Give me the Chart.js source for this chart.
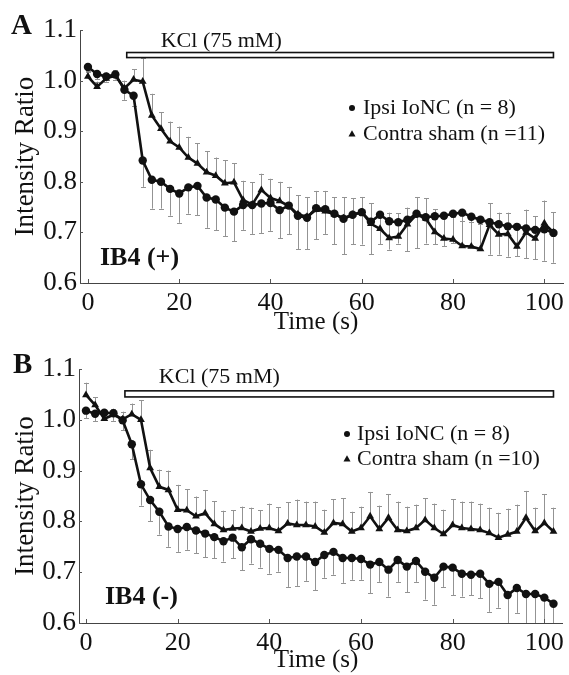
<!DOCTYPE html>
<html><head><meta charset="utf-8">
<script src="https://cdn.jsdelivr.net/npm/chart.js@4.4.1/dist/chart.umd.min.js"></script>
<style>
html,body{margin:0;padding:0;background:#fff;}
#wrap{position:relative;width:569px;height:675px;background:#fff;}
canvas{position:absolute;left:0;}
#cA{top:0}
#cB{top:337px}
</style></head><body>
<div id="wrap"><canvas id="cA" width="569" height="337"></canvas><canvas id="cB" width="569" height="338"></canvas></div>
<script>
// ---------- DATA ----------
const time = [0,2,4,6,8,10,12,14,16,18,20,22,24,26,28,30,32,34,36,38,40,42,44,46,48,50,52,54,56,58,60,62,64,66,68,70,72,74,76,78,80,82,84,86,88,90,92,94,96,98,100,102];
const xTickValues = [0,20,40,60,80,100];
const yTickValues = [0.6,0.7,0.8,0.9,1.0,1.1];
const seriesNames = ['Ipsi IoNC', 'Contra sham'];

// Panel A: IB4 (+)
const aIpsi = [1.027,1.013,1.008,1.012,0.982,0.970,0.842,0.804,0.800,0.786,0.777,0.789,0.792,0.769,0.765,0.749,0.741,0.754,0.754,0.757,0.758,0.744,0.753,0.733,0.729,0.748,0.746,0.737,0.727,0.735,0.740,0.721,0.735,0.722,0.720,0.725,0.737,0.730,0.732,0.733,0.737,0.739,0.731,0.725,0.720,0.716,0.712,0.711,0.708,0.705,0.706,0.699];
const aIpsiErr = [0.010,0.010,0.010,0.010,0.020,0.020,0.052,0.057,0.053,0.053,0.058,0.052,0.058,0.060,0.061,0.057,0.058,0.049,0.057,0.059,0.055,0.056,0.057,0.066,0.062,0.062,0.049,0.060,0.070,0.058,0.064,0.064,0.058,0.056,0.042,0.062,0.068,0.052,0.055,0.060,0.058,0.062,0.056,0.060,0.064,0.060,0.060,0.058,0.059,0.058,0.062,0.059];
const aContra = [1.008,0.988,1.004,1.010,0.985,1.002,0.998,0.931,0.905,0.880,0.868,0.848,0.836,0.819,0.812,0.797,0.799,0.764,0.755,0.784,0.768,0.762,0.752,0.736,0.731,0.745,0.742,0.736,0.728,0.735,0.740,0.717,0.707,0.689,0.692,0.716,0.735,0.728,0.701,0.688,0.686,0.673,0.672,0.667,0.715,0.696,0.697,0.672,0.700,0.688,0.718,0.700];
const aContraErr = [0.010,0.010,0.012,0.010,0.015,0.020,0.047,0.043,0.032,0.039,0.041,0.041,0.040,0.041,0.036,0.046,0.038,0.038,0.044,0.032,0.038,0.038,0.038,0.037,0.039,0.037,0.040,0.033,0.041,0.033,0.030,0.041,0.030,0.050,0.046,0.033,0.035,0.039,0.045,0.050,0.045,0.050,0.048,0.050,0.043,0.043,0.042,0.045,0.045,0.044,0.045,0.040];

// Panel B: IB4 (-)
const bIpsi = [1.018,1.012,1.014,1.013,0.999,0.952,0.873,0.842,0.819,0.790,0.785,0.789,0.782,0.776,0.769,0.761,0.768,0.749,0.765,0.756,0.746,0.744,0.728,0.731,0.731,0.720,0.734,0.740,0.728,0.728,0.726,0.715,0.720,0.705,0.724,0.711,0.722,0.701,0.689,0.711,0.709,0.697,0.695,0.697,0.677,0.681,0.655,0.669,0.657,0.657,0.650,0.638];
const bIpsiErr = [0.015,0.015,0.015,0.015,0.020,0.030,0.042,0.042,0.045,0.040,0.045,0.045,0.045,0.047,0.042,0.040,0.041,0.045,0.048,0.047,0.049,0.043,0.057,0.058,0.048,0.055,0.045,0.045,0.049,0.043,0.041,0.056,0.039,0.053,0.043,0.050,0.041,0.055,0.053,0.040,0.054,0.045,0.040,0.048,0.055,0.051,0.058,0.049,0.060,0.060,0.060,0.060];
const bContra = [1.049,1.029,1.002,1.010,1.001,1.011,1.000,0.905,0.868,0.862,0.823,0.822,0.810,0.816,0.795,0.783,0.786,0.787,0.780,0.786,0.787,0.781,0.796,0.793,0.793,0.790,0.778,0.797,0.795,0.780,0.787,0.810,0.785,0.807,0.783,0.781,0.787,0.803,0.787,0.775,0.793,0.787,0.785,0.783,0.777,0.768,0.774,0.780,0.807,0.781,0.797,0.780];
const bContraErr = [0.024,0.015,0.012,0.012,0.015,0.021,0.039,0.036,0.034,0.038,0.049,0.041,0.039,0.045,0.045,0.038,0.036,0.042,0.047,0.036,0.048,0.047,0.042,0.050,0.046,0.049,0.045,0.047,0.051,0.039,0.042,0.048,0.046,0.047,0.056,0.048,0.046,0.043,0.048,0.048,0.051,0.052,0.054,0.052,0.050,0.049,0.051,0.053,0.053,0.046,0.057,0.047];

const kclRange = [8.5, 102];   // seconds, KCl (75 mM) application
// ---------- END DATA ----------

const SERIF = '"Liberation Serif", "Times New Roman", serif';
const INK = '#111';

function pts(vals){ return time.map((t,i)=>({x:t,y:vals[i]})); }

function drawMarker(ctx, style, x, y, r){
  ctx.beginPath();
  if(style==='circle'){ ctx.arc(x,y,r,0,Math.PI*2); }
  else { ctx.moveTo(x, y - r*1.15); ctx.lineTo(x + r*1.1, y + r*0.75); ctx.lineTo(x - r*1.1, y + r*0.75); ctx.closePath(); }
  ctx.fillStyle = INK; ctx.fill();
}

const overlay = {
  id:'overlay',
  beforeDatasetsDraw(chart, args, o){
    const {ctx, chartArea:ca, scales:{x,y}} = chart;
    ctx.save();
    ctx.beginPath(); ctx.rect(ca.left, ca.top - 40, ca.right - ca.left, ca.bottom - ca.top + 40); ctx.clip();
    ctx.strokeStyle = '#939393'; ctx.lineWidth = 1;
    o.errors.forEach(e=>{
      time.forEach((t,i)=>{
        const px = Math.round(x.getPixelForValue(t)) + 0.5;
        const y0 = y.getPixelForValue(e.vals[i]);
        const y1 = y.getPixelForValue(e.vals[i] + e.dir * e.err[i]);
        ctx.beginPath(); ctx.moveTo(px, y0); ctx.lineTo(px, y1);
        ctx.moveTo(px - 2.5, Math.round(y1)+0.5); ctx.lineTo(px + 2.5, Math.round(y1)+0.5);
        ctx.stroke();
      });
    });
    ctx.restore();
  },
  afterDraw(chart, args, o){
    const {ctx, chartArea:ca, scales:{x,y}} = chart;
    ctx.save();
    // inner tick marks
    ctx.strokeStyle = '#555'; ctx.lineWidth = 1;
    xTickValues.forEach(v=>{ const px = Math.round(x.getPixelForValue(v))+0.5; ctx.beginPath(); ctx.moveTo(px, ca.bottom); ctx.lineTo(px, ca.bottom-4); ctx.stroke(); });
    yTickValues.forEach(v=>{ const py = Math.round(y.getPixelForValue(v))+0.5; ctx.beginPath(); ctx.moveTo(ca.left, py); ctx.lineTo(ca.left+3, py); ctx.stroke(); });
    // KCl bar
    const x0 = x.getPixelForValue(kclRange[0]), x1 = x.getPixelForValue(kclRange[1]);
    const yt = y.getPixelForValue(o.barTop), yb = y.getPixelForValue(o.barBot);
    ctx.fillStyle = '#fff'; ctx.fillRect(x0, yt, x1-x0, yb-yt);
    ctx.strokeStyle = INK; ctx.lineWidth = 1.6; ctx.strokeRect(x0, yt, x1-x0, yb-yt);
    ctx.fillStyle = INK;
    ctx.font = '22px ' + SERIF; ctx.textAlign = 'center'; ctx.textBaseline = 'alphabetic';
    ctx.fillText('KCl (75 mM)', x.getPixelForValue(o.kclLabelT), o.kclBase);
    // x title
    ctx.font = '25px ' + SERIF; ctx.textAlign = 'center';
    ctx.fillText('Time (s)', o.xTitleX, o.xTitleBase);
    // panel letter
    ctx.font = 'bold 29px ' + SERIF; ctx.textAlign = 'left';
    ctx.fillText(o.letter, o.letterX, o.letterBase);
    // IB4 label
    ctx.font = 'bold 26px ' + SERIF;
    ctx.fillText(o.ib4, o.ib4X, o.ib4Base);
    // legend
    ctx.font = '22px ' + SERIF;
    drawMarker(ctx, 'circle', o.legX, o.legBase1 - 6, 3);
    ctx.fillText(o.leg1, o.legTextX, o.legBase1);
    drawMarker(ctx, 'triangle', o.legX, o.legBase2 - 6, 3.2);
    ctx.fillText(o.leg2, o.legTextX, o.legBase2);
    ctx.restore();
  }
};

function makePanel(id, ipsi, ipsiErr, contra, contraErr, g, ov){
  return new Chart(document.getElementById(id), {
    type:'line',
    data:{ datasets:[
      {label:seriesNames[0], data:pts(ipsi), borderColor:INK, backgroundColor:INK, borderWidth:2.6, pointStyle:'circle', pointRadius:4.2, pointBackgroundColor:INK, pointBorderColor:INK, pointBorderWidth:0, tension:0},
      {label:seriesNames[1], data:pts(contra), borderColor:INK, backgroundColor:INK, borderWidth:2.6, pointStyle:'triangle', pointRadius:4.5, pointBackgroundColor:INK, pointBorderColor:INK, pointBorderWidth:0, tension:0}
    ]},
    options:{
      responsive:false, animation:false, devicePixelRatio:1,
      layout:{padding:{top:g.top, right:g.right, left:0, bottom:0}},
      plugins:{legend:{display:false}, tooltip:{enabled:false},
        overlay:Object.assign({errors:[{vals:ipsi, err:ipsiErr, dir:-1},{vals:contra, err:contraErr, dir:1}]}, ov)},
      scales:{
        x:{type:'linear', min:g.xmin, max:g.xmax,
           afterBuildTicks:s=>{ s.ticks = xTickValues.map(v=>({value:v})); },
           afterFit:s=>{ s.height = g.xh; },
           grid:{display:false, drawTicks:false}, border:{display:true, color:'#444', width:1},
           ticks:{font:{family:SERIF, size:26}, color:INK, padding:5, maxRotation:0, autoSkip:false, callback:v=>String(v)}},
        y:{type:'linear', min:0.6, max:1.1,
           afterBuildTicks:s=>{ s.ticks = yTickValues.map(v=>({value:v})); },
           afterFit:s=>{ s.width = g.yw; },
           grid:{display:false, drawTicks:false}, border:{display:true, color:'#444', width:1},
           ticks:{font:{family:SERIF, size:27}, color:INK, padding:3, autoSkip:false, callback:v=>Number(v).toFixed(1)},
           title:{display:true, text:'Intensity Ratio', font:{family:SERIF, size:27}, color:INK, padding:{top:10, bottom:0}}}
      }
    },
    plugins:[overlay]
  });
}

makePanel('cA', aIpsi, aIpsiErr, aContra, aContraErr,
  {top:30, right:2, xmin:-1.74, xmax:104.1, xh:54, yw:80},
  {barTop:1.0555, barBot:1.0455, kclLabelT:29.2, kclBase:47, xTitleX:316, xTitleBase:329,
   letter:'A', letterX:11, letterBase:34, ib4:'IB4 (+)', ib4X:100, ib4Base:265,
   legX:352, legTextX:363, legBase1:114, legBase2:140, leg1:'Ipsi IoNC (n = 8)', leg2:'Contra sham (n =11)'});

makePanel('cB', bIpsi, bIpsiErr, bContra, bContraErr,
  {top:32, right:5, xmin:-1.52, xmax:103.9, xh:52, yw:79},
  {barTop:1.057, barBot:1.045, kclLabelT:29.1, kclBase:46, xTitleX:316, xTitleBase:330,
   letter:'B', letterX:13, letterBase:36, ib4:'IB4 (-)', ib4X:105, ib4Base:267,
   legX:347, legTextX:357, legBase1:103, legBase2:128, leg1:'Ipsi IoNC (n = 8)', leg2:'Contra sham (n =10)'});
</script>
</body></html>
